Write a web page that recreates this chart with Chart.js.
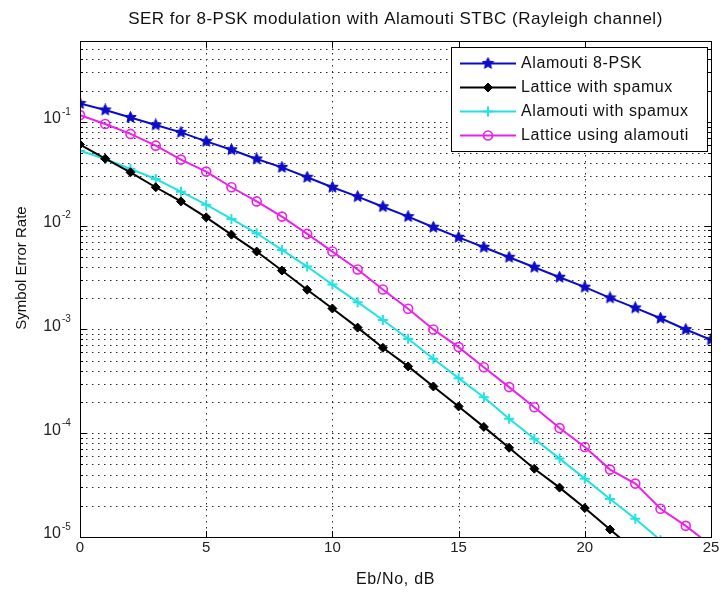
<!DOCTYPE html>
<html>
<head>
<meta charset="utf-8">
<title>SER for 8-PSK modulation with Alamouti STBC</title>
<script src="https://cdn.jsdelivr.net/npm/chart.js@4.4.1/dist/chart.umd.min.js"></script>
<style>
  html, body { margin: 0; padding: 0; background: #fff; }
  canvas { display: block; }
</style>
</head>
<body>
<canvas id="serChart" width="723" height="592"></canvas>
<script>
const FONT = "'Liberation Sans', Arial, sans-serif";

// Eb/No in dB, one point per dB
const ebNo = [0, 1, 2, 3, 4, 5, 6, 7, 8, 9, 10, 11, 12, 13, 14, 15, 16, 17, 18, 19, 20, 21, 22, 23, 24, 25];

const serAlamouti8psk = [0.150, 0.130, 0.110, 0.0931, 0.0791, 0.0647, 0.0538, 0.0438, 0.0364, 0.0292,
  0.0234, 0.0190, 0.0152, 0.0122, 0.00964, 0.00771, 0.00618, 0.00495, 0.00397, 0.00318,
  0.00255, 0.00201, 0.00161, 0.00128, 0.000997, 0.000794];

const serLatticeSpamux = [0.0604, 0.0441, 0.0326, 0.0234, 0.0171, 0.0120, 0.00818, 0.00562, 0.00369, 0.00241,
  0.00159, 0.00104, 0.000665, 0.000440, 0.000282, 0.000181, 0.000115, 7.24e-5, 4.55e-5, 2.99e-5,
  1.90e-5, 1.18e-5, 7.4e-6];

const serAlamoutiSpamux = [0.0527, 0.0438, 0.0352, 0.0281, 0.0212, 0.0159, 0.0116, 0.00843, 0.00583, 0.00403,
  0.00270, 0.00183, 0.00123, 0.000813, 0.000521, 0.000339, 0.000222, 0.000138, 8.85e-5, 5.69e-5,
  3.65e-5, 2.32e-5, 1.50e-5, 9.3e-6];

const serLatticeAlamouti = [0.116, 0.0953, 0.0764, 0.0589, 0.0432, 0.0331, 0.0234, 0.0171, 0.0122, 0.00832,
  0.00562, 0.00378, 0.00242, 0.00158, 0.000998, 0.000675, 0.000432, 0.000278, 0.000178, 0.000112,
  7.35e-5, 4.46e-5, 3.27e-5, 1.87e-5, 1.28e-5, 8.3e-6];

const seriesNames = ["Alamouti 8-PSK", "Lattice with spamux", "Alamouti with spamux", "Lattice using alamouti"];

const chartTitle = "SER for 8-PSK modulation with Alamouti STBC (Rayleigh channel)";
const xLabel = "Eb/No, dB";
const yLabel = "Symbol Error Rate";

const xTicks = [0, 5, 10, 15, 20, 25];
const yDecades = [-5, -4, -3, -2, -1];
const yMin = 1e-5;
const yMax = 0.6;

const BLUE = "#0c0cc8";
const CYAN = "#22e2e2";
const MAGENTA = "#ea22ea";

// filled five point star, used as the blue marker
function makeStar(color) {
  const c = document.createElement("canvas");
  c.width = 13; c.height = 13;
  const g = c.getContext("2d");
  g.fillStyle = color; g.strokeStyle = color; g.lineWidth = 1;
  g.beginPath();
  for (let i = 0; i < 10; i++) {
    const r = i % 2 ? 2.8 : 6;
    const a = -Math.PI / 2 + i * Math.PI / 5;
    const px = 6.5 + r * Math.cos(a), py = 6.5 + r * Math.sin(a);
    if (i) g.lineTo(px, py); else g.moveTo(px, py);
  }
  g.closePath(); g.fill(); g.stroke();
  return c;
}

function toPoints(values) {
  return values.map((v, i) => ({ x: ebNo[i], y: v }));
}

const markers = [
  { pointStyle: makeStar(BLUE), radius: 6, bg: BLUE, border: BLUE, bw: 1 },
  { pointStyle: "rectRot", radius: 4.5, bg: "#000", border: "#000", bw: 1 },
  { pointStyle: "cross", radius: 5, bg: CYAN, border: CYAN, bw: 2 },
  { pointStyle: "circle", radius: 4.5, bg: "rgba(0,0,0,0)", border: MAGENTA, bw: 1.6 }
];
const lineColors = [BLUE, "#000", CYAN, MAGENTA];
const seriesData = [serAlamouti8psk, serLatticeSpamux, serAlamoutiSpamux, serLatticeAlamouti];

const datasets = seriesData.map((vals, i) => ({
  label: seriesNames[i],
  data: toPoints(vals),
  borderColor: lineColors[i],
  borderWidth: 2,
  pointStyle: markers[i].pointStyle,
  pointRadius: markers[i].radius,
  pointBackgroundColor: markers[i].bg,
  pointBorderColor: markers[i].border,
  pointBorderWidth: markers[i].bw,
  tension: 0
}));

function seg(ctx, x1, y1, x2, y2) {
  ctx.beginPath(); ctx.moveTo(x1, y1); ctx.lineTo(x2, y2); ctx.stroke();
}

// dotted grid, boxed axes with inward ticks, titles, power-of-ten labels, legend
const matlabAxes = {
  id: "matlabAxes",
  beforeDatasetsDraw(chart) {
    const { ctx, chartArea: a, scales: { x, y } } = chart;
    ctx.save();
    ctx.strokeStyle = "#2a2a2a";
    ctx.lineWidth = 1;
    ctx.setLineDash([1.5, 4.5]);
    x.ticks.forEach(t => {
      const px = Math.round(x.getPixelForValue(t.value)) + 0.5;
      if (px <= a.left + 1 || px >= a.right - 1) return;
      seg(ctx, px, a.top, px, a.bottom);
    });
    y.ticks.forEach(t => {
      const py = Math.round(y.getPixelForValue(t.value)) + 0.5;
      if (py <= a.top + 1 || py >= a.bottom - 1) return;
      seg(ctx, a.left, py, a.right, py);
    });
    ctx.restore();
  },
  afterDatasetsDraw(chart) {
    const { ctx, chartArea: a, scales: { x, y } } = chart;
    ctx.save();
    ctx.strokeStyle = "#000";
    ctx.lineWidth = 1;
    ctx.strokeRect(Math.round(a.left) + 0.5, Math.round(a.top) + 0.5,
      Math.round(a.right - a.left), Math.round(a.bottom - a.top));

    // inward tick marks on all four sides
    x.ticks.forEach(t => {
      const px = Math.round(x.getPixelForValue(t.value)) + 0.5;
      seg(ctx, px, a.bottom, px, a.bottom - 6);
      seg(ctx, px, a.top, px, a.top + 6);
    });
    y.ticks.forEach(t => {
      const py = Math.round(y.getPixelForValue(t.value)) + 0.5;
      const m = Math.round(t.value / Math.pow(10, Math.floor(Math.log10(t.value) + 1e-9)));
      const len = m === 1 ? 6 : 3;
      seg(ctx, a.left, py, a.left + len, py);
      seg(ctx, a.right, py, a.right - len, py);
    });

    // y labels: 10 with a raised exponent
    ctx.fillStyle = "#222";
    ctx.textBaseline = "middle";
    yDecades.forEach(e => {
      const py = y.getPixelForValue(Math.pow(10, e));
      ctx.font = "16px " + FONT;
      ctx.textAlign = "right";
      ctx.fillText("10", 61, py - 3);
      ctx.font = "10px " + FONT;
      ctx.textAlign = "left";
      ctx.fillText(String(e), 62, py - 10);
    });

    // titles
    const cx = (a.left + a.right) / 2;
    ctx.fillStyle = "#111";
    ctx.textAlign = "center";
    ctx.font = "17px " + FONT;
    ctx.letterSpacing = "0.5px";
    ctx.fillText(chartTitle, cx, 19);
    ctx.font = "16px " + FONT;
    ctx.letterSpacing = "0.7px";
    ctx.fillText(xLabel, cx, 580);
    ctx.save();
    ctx.translate(22, 268);
    ctx.rotate(-Math.PI / 2);
    ctx.font = "15px " + FONT;
    ctx.letterSpacing = "0px";
    ctx.fillText(yLabel, 0, 0);
    ctx.restore();

    // legend box inside the axes
    const box = { left: 451, top: 47, right: 707, bottom: 151 };
    ctx.fillStyle = "#fff";
    ctx.fillRect(box.left, box.top, box.right - box.left, box.bottom - box.top);
    ctx.strokeStyle = "#000";
    ctx.lineWidth = 1;
    ctx.strokeRect(box.left + 0.5, box.top + 0.5, box.right - box.left, box.bottom - box.top);
    chart.data.datasets.forEach((ds, i) => {
      const ry = 63.5 + i * 24;
      ctx.strokeStyle = ds.borderColor;
      ctx.lineWidth = 2;
      seg(ctx, 460, ry, 516, ry);
      ctx.fillStyle = markers[i].bg;
      ctx.strokeStyle = markers[i].border;
      ctx.lineWidth = markers[i].bw;
      Chart.helpers.drawPoint(ctx, { pointStyle: markers[i].pointStyle, radius: markers[i].radius, rotation: 0, borderWidth: markers[i].bw }, 488, ry);
      ctx.fillStyle = "#111";
      ctx.font = "16px " + FONT;
      ctx.letterSpacing = "0.6px";
      ctx.textAlign = "left";
      ctx.textBaseline = "middle";
      ctx.fillText(ds.label, 521, ry);
    });
    ctx.restore();
  }
};

new Chart(document.getElementById("serChart").getContext("2d"), {
  type: "line",
  data: { datasets },
  options: {
    responsive: false,
    animation: false,
    layout: { padding: { left: 0, right: 12, top: 41, bottom: 0 } },
    plugins: {
      legend: { display: false },
      tooltip: { enabled: false },
      title: { display: false }
    },
    scales: {
      x: {
        type: "linear",
        min: 0,
        max: 25,
        afterBuildTicks: scale => { scale.ticks = xTicks.map(v => ({ value: v })); },
        afterFit: scale => { scale.height = 55; },
        grid: { display: false, drawTicks: false },
        border: { display: false },
        ticks: { color: "#222", font: { family: FONT, size: 15 }, padding: 2, maxRotation: 0 }
      },
      y: {
        type: "logarithmic",
        min: yMin,
        max: yMax,
        afterBuildTicks: scale => {
          const t = [];
          yDecades.forEach(e => {
            for (let m = 1; m <= 9; m++) {
              const v = m * Math.pow(10, e);
              if (v <= yMax * 1.0001) t.push({ value: v });
            }
          });
          scale.ticks = t;
        },
        afterFit: scale => { scale.width = 80; },
        grid: { display: false, drawTicks: false },
        border: { display: false },
        ticks: { autoSkip: false, callback: () => "" }
      }
    }
  },
  plugins: [matlabAxes]
});
</script>
</body>
</html>
